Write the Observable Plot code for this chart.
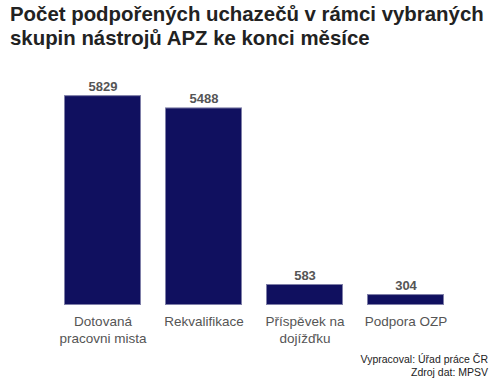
<!DOCTYPE html>
<html><head><meta charset="utf-8">
<script src="https://cdn.jsdelivr.net/npm/d3@7"></script>
<script src="https://cdn.jsdelivr.net/npm/@observablehq/plot@0.6"></script>
<style>
body{margin:0;background:#fff;font-family:"Liberation Sans",Arial,sans-serif;}
#wrap{position:relative;width:500px;height:390px;overflow:hidden;}
#title{position:absolute;left:10px;top:2px;font-size:20.4px;font-weight:bold;color:#222;line-height:24px;white-space:nowrap;}
#chart{position:absolute;left:0;top:0;}
#caption{position:absolute;right:12px;top:353px;font-size:10.5px;color:#222;text-align:right;line-height:13px;}
</style></head>
<body><div id="wrap">
<div id="chart"></div>
<div id="title">Počet podpořených uchazečů v rámci vybraných<br>skupin nástrojů APZ ke konci měsíce</div>
<div id="caption">Vypracoval: Úřad práce ČR<br>Zdroj dat: MPSV</div>
</div>
<script>
const categories = ["Dotovaná\npracovni mista", "Rekvalifikace", "Příspěvek na\ndojížďku", "Podpora OZP"];
const values = [5829, 5488, 583, 304];
const data = categories.map((c, i) => ({cat: c, value: values[i]}));
const plot = Plot.plot({
  width: 500, height: 390,
  marginTop: 89, marginBottom: 85, marginLeft: 51, marginRight: 43,
  style: {fontFamily: '"Liberation Sans", Arial, sans-serif', background: "transparent"},
  x: {domain: categories, paddingInner: 0.24, paddingOuter: 0.12, axis: null},
  y: {domain: [0, 6000], axis: null},
  marks: [
    Plot.barY(data, {x: "cat", y: "value", fill: "#10105f", stroke: "#7f7fa8", strokeWidth: 1, inset: 0.5}),
    Plot.text(data, {x: "cat", y: "value", text: d => String(d.value), dy: -5, lineAnchor: "bottom", fontSize: 13, fontWeight: "bold", fill: "#555"}),
    Plot.axisX({domain: categories, tickSize: 0, tickPadding: 9, fontSize: 13.5, fill: "#555", label: null, lineHeight: 1.25})
  ]
});
document.getElementById("chart").appendChild(plot);
</script>
</body></html>
